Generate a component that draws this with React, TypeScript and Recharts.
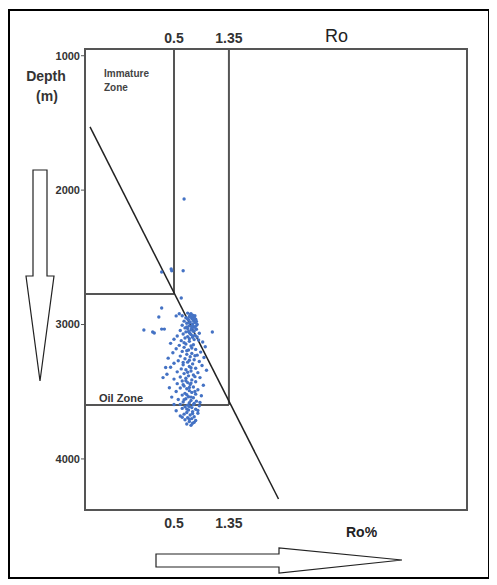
import React from "react";
import {
  ComposedChart,
  ReferenceArea,
  ReferenceLine,
  Scatter,
  XAxis,
  YAxis,
} from "recharts";

// Ro (%) vs depth (m) samples
const samples: [number, number][] = [
  [0.6, 2066], [0.4, 2609], [0.475, 2587], [0.48, 2600], [0.59, 2600],
  [0.57, 2803], [0.4, 2877], [0.38, 2944], [0.52, 2936], [0.55, 2920], [0.58, 2935],
  [0.29, 3041], [0.34, 3056], [0.35, 3063], [0.4, 3034], [0.42, 3034], [1.0, 3056],
  [0.64, 2915], [0.68, 2920], [0.7, 2930], [0.66, 2940], [0.72, 2945], [0.62, 2950],
  [0.69, 2955], [0.74, 2960], [0.65, 2965], [0.71, 2970], [0.6, 2975], [0.67, 2980],
  [0.73, 2985], [0.63, 2990], [0.7, 2995], [0.76, 3000], [0.58, 3005], [0.66, 3010],
  [0.69, 3015], [0.72, 3020], [0.61, 3025], [0.64, 3030], [0.75, 3035], [0.68, 3040],
  [0.56, 3045], [0.71, 3050], [0.62, 3055], [0.66, 3060], [0.79, 3065], [0.59, 3070],
  [0.68, 3075], [0.73, 3080], [0.53, 3085], [0.64, 3090], [0.7, 3095], [0.61, 3100],
  [0.5, 3110], [0.78, 3115], [0.57, 3120], [0.66, 3125], [0.84, 3130], [0.47, 3140],
  [0.62, 3145], [0.71, 3150], [0.55, 3155], [0.68, 3160], [0.88, 3165], [0.6, 3170],
  [0.52, 3180], [0.74, 3185], [0.65, 3190], [0.58, 3200], [0.81, 3205], [0.49, 3210],
  [0.69, 3215], [0.63, 3222], [0.76, 3228], [0.56, 3235], [0.67, 3240], [0.86, 3245],
  [0.45, 3250], [0.61, 3255], [0.72, 3262], [0.54, 3270], [0.79, 3275], [0.64, 3280],
  [0.5, 3288], [0.7, 3293], [0.59, 3300], [0.83, 3305], [0.66, 3312], [0.47, 3318],
  [0.74, 3325], [0.57, 3330], [0.62, 3336], [0.9, 3340], [0.68, 3346], [0.53, 3352],
  [0.77, 3358], [0.6, 3365], [0.44, 3370], [0.71, 3376], [0.65, 3382], [0.56, 3390],
  [0.8, 3395], [0.62, 3400], [0.5, 3406], [0.69, 3412], [0.58, 3420], [0.74, 3426],
  [0.64, 3432], [0.53, 3440], [0.67, 3446], [0.85, 3452], [0.6, 3458], [0.71, 3465],
  [0.56, 3472], [0.63, 3478], [0.77, 3485], [0.66, 3492], [0.52, 3498], [0.69, 3505],
  [0.61, 3512], [0.74, 3518], [0.58, 3525], [0.82, 3530], [0.65, 3537], [0.71, 3545],
  [0.62, 3552], [0.54, 3558], [0.68, 3565], [0.75, 3570], [0.59, 3576], [0.66, 3582],
  [0.72, 3588], [0.56, 3594], [0.64, 3600], [0.79, 3605], [0.61, 3612], [0.69, 3618],
  [0.58, 3624], [0.74, 3630], [0.65, 3636], [0.52, 3642], [0.7, 3648], [0.63, 3655],
  [0.77, 3660], [0.6, 3667], [0.67, 3673], [0.56, 3680], [0.72, 3686], [0.64, 3693],
  [0.69, 3700], [0.61, 3708], [0.74, 3714], [0.66, 3722], [0.7, 3735], [0.68, 3750],
  [0.67, 2925], [0.73, 2935], [0.69, 2948], [0.64, 2958], [0.71, 2963], [0.75, 2978],
  [0.66, 2988], [0.7, 3008], [0.74, 3012], [0.63, 3018], [0.69, 3028], [0.72, 3048],
  [0.65, 3052], [0.67, 3068], [0.7, 3085], [0.76, 3092], [0.66, 3105], [0.72, 3112],
  [0.6, 3135], [0.69, 3175], [0.63, 3195], [0.73, 3232], [0.66, 3266], [0.59, 3283],
  [0.68, 3322], [0.64, 3355], [0.73, 3388], [0.62, 3418], [0.68, 3436], [0.59, 3448],
  [0.66, 3468], [0.73, 3498], [0.63, 3522], [0.68, 3540], [0.6, 3560], [0.71, 3596],
  [0.66, 3610], [0.63, 3628], [0.7, 3662], [0.58, 3690], [0.66, 3705], [0.72, 3728],
  [0.63, 3740], [0.5, 3595], [0.48, 3540], [0.46, 3470], [0.43, 3320], [0.41, 3395],
  [0.77, 3640], [0.8, 3580],
];

const roTicks = [0.5, 1.35];
const depthTicks = [1000, 2000, 3000, 4000];
const roDomain = [0.1, 100];
const depthDomain = [950, 4380];

// zone boundaries
const immatureBase = 2773; // depth where the 0.5 line stops
const oilBase = 3599; // depth where the 1.35 line stops
// trend line end points (Ro, depth)
const trendStart = { x: 0.1095, y: 1530 };
const trendEnd = { x: 3.31, y: 4298 };

const data = samples.map(([ro, depth]) => ({ ro, depth }));

const boxColor = "#555";
const dotColor = "#4472C4";

const Dot = (props: any) => (
  <circle cx={props.cx} cy={props.cy} r={1.7} fill={dotColor} />
);

export default function App() {
  return (
    <div
      style={{
        position: "relative",
        width: 497,
        height: 585,
        marginTop: -8,
        marginLeft: -8,
        fontFamily: "'Liberation Sans', Arial, sans-serif",
      }}
    >
      <ComposedChart
        width={497}
        height={585}
        data={data}
        margin={{ top: 24, right: 30, bottom: 45, left: 35 }}
      >
        <XAxis
          dataKey="ro"
          type="number"
          scale="log"
          domain={roDomain}
          allowDataOverflow
          ticks={roTicks}
          axisLine={false}
          tickLine={false}
          tickSize={6}
          tickMargin={2}
          height={30}
          tick={{ fontSize: 14, fontWeight: "bold", fill: "#333" }}
        />
        <XAxis
          xAxisId="top"
          orientation="top"
          dataKey="ro"
          type="number"
          scale="log"
          domain={roDomain}
          allowDataOverflow
          ticks={roTicks}
          axisLine={false}
          tickLine={false}
          tickSize={4}
          tickMargin={2}
          height={25}
          tick={{ fontSize: 14, fontWeight: "bold", fill: "#333" }}
        />
        <YAxis
          dataKey="depth"
          type="number"
          reversed
          domain={depthDomain}
          allowDataOverflow
          ticks={depthTicks}
          axisLine={false}
          tickLine={{ stroke: boxColor }}
          tickSize={4}
          tickMargin={1}
          width={50}
          tick={{ fontSize: 11, fontWeight: "bold", fill: "#333" }}
        />
        <ReferenceArea
          x1={roDomain[0]}
          x2={roDomain[1]}
          y1={depthDomain[0]}
          y2={depthDomain[1]}
          fill="none"
          stroke={boxColor}
          strokeWidth={2}
          fillOpacity={0}
        />
        <ReferenceLine
          segment={[
            { x: roTicks[0], y: depthDomain[0] },
            { x: roTicks[0], y: immatureBase },
          ]}
          stroke={boxColor}
          strokeWidth={2}
        />
        <ReferenceLine
          segment={[
            { x: roDomain[0], y: immatureBase },
            { x: roTicks[0], y: immatureBase },
          ]}
          stroke={boxColor}
          strokeWidth={2}
        />
        <ReferenceLine
          segment={[
            { x: roTicks[1], y: depthDomain[0] },
            { x: roTicks[1], y: oilBase },
          ]}
          stroke={boxColor}
          strokeWidth={2}
        />
        <ReferenceLine
          segment={[
            { x: roDomain[0], y: oilBase },
            { x: roTicks[1], y: oilBase },
          ]}
          stroke={boxColor}
          strokeWidth={2}
        />
        <ReferenceLine
          segment={[trendStart, trendEnd]}
          stroke="#222"
          strokeWidth={1.5}
        />
        <Scatter
          dataKey="depth"
          fill={dotColor}
          shape={Dot}
          isAnimationActive={false}
        />
      </ComposedChart>
      <svg
        width={497}
        height={585}
        style={{ position: "absolute", left: 0, top: 0, pointerEvents: "none" }}
      >
        <rect x={9} y={10} width={480} height={568} fill="none" stroke="#000" strokeWidth={2} />
        <text x={46} y={81} fontSize={14} fontWeight="bold" fill="#333" textAnchor="middle">
          Depth
        </text>
        <text x={47} y={101} fontSize={14} fontWeight="bold" fill="#333" textAnchor="middle">
          (m)
        </text>
        <text x={104} y={77} fontSize={10} fontWeight="bold" fill="#444">
          Immature
        </text>
        <text x={104} y={91} fontSize={10} fontWeight="bold" fill="#444">
          Zone
        </text>
        <text x={99} y={402} fontSize={11} fontWeight="bold" fill="#333">
          Oil Zone
        </text>
        <text x={325} y={42} fontSize={18} fill="#222">
          Ro
        </text>
        <text x={346} y={537} fontSize={14} fontWeight="bold" fill="#222">
          Ro%
        </text>
        <polygon
          points="33,170 47,170 47,276 54,276 40,381 26,276 33,276"
          fill="#fff"
          stroke="#222"
          strokeWidth={1.2}
        />
        <polygon
          points="156,554 279,554 279,548 402,560 279,573 279,567 156,567"
          fill="#fff"
          stroke="#222"
          strokeWidth={1.2}
        />
      </svg>
    </div>
  );
}
